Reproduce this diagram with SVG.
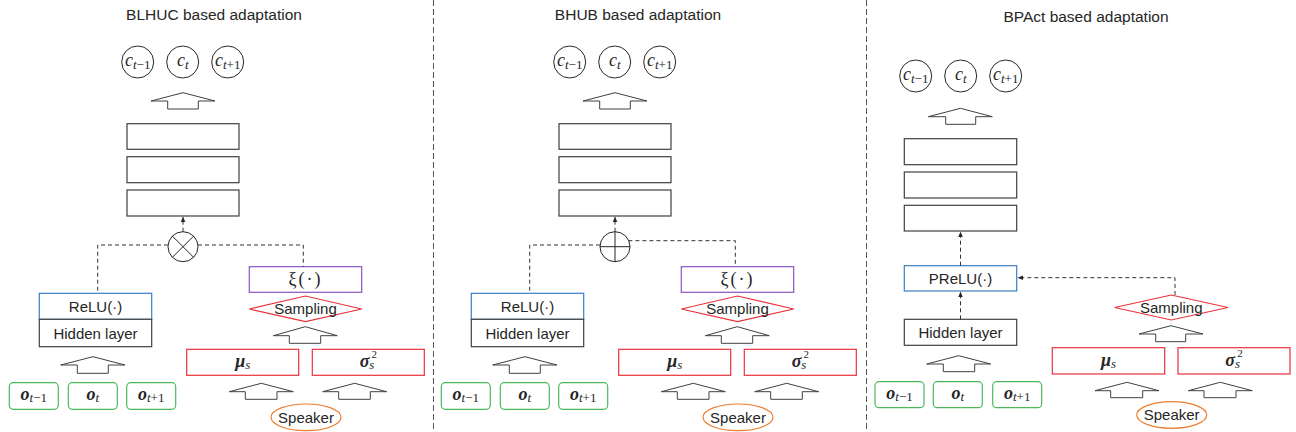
<svg xmlns="http://www.w3.org/2000/svg" width="1296" height="432" viewBox="0 0 1296 432">
<defs>
<style>
.t{font-family:"Liberation Sans",Arial,sans-serif;font-size:15.5px;fill:#262626;text-anchor:middle}
.lbl{font-family:"Liberation Sans",Arial,sans-serif;font-size:15px;fill:#262626;text-anchor:middle}
.m{font-family:"Liberation Serif","DejaVu Serif",serif;font-size:18px;fill:#262626;text-anchor:middle}
.sub{font-size:13px}
.sup{font-size:11px}
.box{fill:#fff;stroke:#404040;stroke-width:1.2}
.circ{fill:#fff;stroke:#262626;stroke-width:1}
.blk{fill:#fff;stroke:#404040;stroke-width:1}
.green{fill:#fff;stroke:#4CB85C;stroke-width:1.2}
.red{fill:#fff;stroke:#E8323C;stroke-width:1.2}
.blue{fill:#fff;stroke:#3A7FC1;stroke-width:1.2}
.purple{fill:#fff;stroke:#8A55BF;stroke-width:1.2}
.orange{fill:#fff;stroke:#ED7D31;stroke-width:1.2}
.dash{fill:none;stroke:#333;stroke-width:1;stroke-dasharray:4,3}
.div{fill:none;stroke:#555;stroke-width:1;stroke-dasharray:6,3}
.op{fill:#fff;stroke:#262626;stroke-width:1}
</style>
<marker id="ah" viewBox="0 0 10 10" refX="9" refY="5" markerWidth="6" markerHeight="6" orient="auto">
<path d="M0,1 L10,5 L0,9 z" fill="#262626"/>
</marker>
</defs>
<rect width="1296" height="432" fill="#fff"/>

<g id="dividers">
<line class="div" x1="433.5" y1="0" x2="433.5" y2="432"/>
<line class="div" x1="866.5" y1="0" x2="866.5" y2="432"/>
</g>

<!-- ============ Panel 1 ============ -->
<g id="p1">
<text id="p1-title" class="t" x="214" y="20">BLHUC based adaptation</text>
<g id="p1-c1"><circle class="circ" cx="137.7" cy="62" r="16"/><text class="m" x="137.7" y="66"><tspan font-style="italic">c</tspan><tspan class="sub" dy="3" font-style="italic">t</tspan><tspan class="sub">−1</tspan></text></g>
<g id="p1-c2"><circle class="circ" cx="182.7" cy="62" r="16"/><text class="m" x="182.7" y="66"><tspan font-style="italic">c</tspan><tspan class="sub" dy="3" font-style="italic">t</tspan></text></g>
<g id="p1-c3"><circle class="circ" cx="227.7" cy="62" r="16"/><text class="m" x="227.7" y="66"><tspan font-style="italic">c</tspan><tspan class="sub" dy="3" font-style="italic">t</tspan><tspan class="sub">+1</tspan></text></g>
<polygon id="p1-up" class="blk" points="151,101 183,92.7 215,101 198.3,101 198.3,109 167.7,109 167.7,101"/>
<rect id="p1-l1" class="box" x="127" y="123.7" width="112" height="25.6"/>
<rect id="p1-l2" class="box" x="127" y="156.7" width="112" height="26"/>
<rect id="p1-l3" class="box" x="127" y="190" width="112" height="26"/>
<g id="p1-mul"><circle class="op" cx="183" cy="246.7" r="15"/><line x1="172.4" y1="236.1" x2="193.6" y2="257.3" stroke="#262626"/><line x1="193.6" y1="236.1" x2="172.4" y2="257.3" stroke="#262626"/></g>
<g id="p1-xi"><rect class="purple" x="249.3" y="266.7" width="112.4" height="25.6"/><text class="m" x="305.5" y="285" letter-spacing="2">ξ(·)</text></g>
<g id="p1-samp"><polygon class="red" points="249.3,309 305.5,296 361.7,309 305.5,321.7"/><text class="lbl" x="305.5" y="314">Sampling</text></g>
<polygon id="p1-up2" class="blk" points="273.3,335.7 305.3,326.7 337.3,335.7 320.7,335.7 320.7,343.3 289.3,343.3 289.3,335.7"/>
<g id="p1-mu"><rect class="red" x="186.7" y="349.3" width="112" height="26"/><text class="m" x="242.7" y="367"><tspan font-weight="bold" font-style="italic">μ</tspan><tspan class="sub" dy="2" font-style="italic">s</tspan></text></g>
<g id="p1-sig"><rect class="red" x="312.3" y="349.3" width="112" height="26"/><text class="m" x="368.3" y="367"><tspan font-weight="bold" font-style="italic">σ</tspan><tspan class="sub" dy="2" font-style="italic">s</tspan><tspan class="sup" dx="-3" dy="-11">2</tspan></text></g>
<polygon id="p1-up3" class="blk" points="229.3,391.7 261.3,383.3 293.3,391.7 277,391.7 277,399.3 245.3,399.3 245.3,391.7"/>
<polygon id="p1-up4" class="blk" points="322.7,391.7 354.7,383.3 386.7,391.7 370.3,391.7 370.3,399.3 338.7,399.3 338.7,391.7"/>
<g id="p1-spk"><ellipse class="orange" cx="306" cy="417.3" rx="35" ry="13.3"/><text class="lbl" x="306" y="422.5">Speaker</text></g>
<g id="p1-relu"><rect class="blue" x="39.3" y="293.3" width="112.4" height="26"/><text class="lbl" x="95.5" y="311.5">ReLU(·)</text></g>
<g id="p1-hid"><rect class="box" x="39.3" y="319.3" width="112.4" height="27.4"/><text class="lbl" x="95.5" y="338.5">Hidden layer</text></g>
<polygon id="p1-up5" class="blk" points="60.7,365 93,356.7 125,365 108.3,365 108.3,373.3 77.3,373.3 77.3,365"/>
<g id="p1-o1"><rect class="green" x="9.3" y="382.7" width="49" height="26.6" rx="4"/><text class="m" x="33.8" y="400"><tspan font-weight="bold" font-style="italic">o</tspan><tspan class="sub" dy="2" font-style="italic">t</tspan><tspan class="sub">−1</tspan></text></g>
<g id="p1-o2"><rect class="green" x="68.3" y="382.7" width="49" height="26.6" rx="4"/><text class="m" x="92.8" y="400"><tspan font-weight="bold" font-style="italic">o</tspan><tspan class="sub" dy="2" font-style="italic">t</tspan></text></g>
<g id="p1-o3"><rect class="green" x="126.7" y="382.7" width="49" height="26.6" rx="4"/><text class="m" x="151.2" y="400"><tspan font-weight="bold" font-style="italic">o</tspan><tspan class="sub" dy="2" font-style="italic">t</tspan><tspan class="sub">+1</tspan></text></g>
</g>

<!-- ============ Panel 2 ============ -->
<g id="p2">
<text id="p2-title" class="t" x="638" y="20">BHUB based adaptation</text>
<g id="p2-c1"><circle class="circ" cx="569.7" cy="62" r="16"/><text class="m" x="569.7" y="66"><tspan font-style="italic">c</tspan><tspan class="sub" dy="3" font-style="italic">t</tspan><tspan class="sub">−1</tspan></text></g>
<g id="p2-c2"><circle class="circ" cx="614.7" cy="62" r="16"/><text class="m" x="614.7" y="66"><tspan font-style="italic">c</tspan><tspan class="sub" dy="3" font-style="italic">t</tspan></text></g>
<g id="p2-c3"><circle class="circ" cx="659.7" cy="62" r="16"/><text class="m" x="659.7" y="66"><tspan font-style="italic">c</tspan><tspan class="sub" dy="3" font-style="italic">t</tspan><tspan class="sub">+1</tspan></text></g>
<polygon id="p2-up" class="blk" points="583,101 615,92.7 647,101 630.3,101 630.3,109 599.7,109 599.7,101"/>
<rect id="p2-l1" class="box" x="559" y="123.7" width="112" height="25.6"/>
<rect id="p2-l2" class="box" x="559" y="156.7" width="112" height="26"/>
<rect id="p2-l3" class="box" x="559" y="190" width="112" height="26"/>
<g id="p2-add"><circle class="op" cx="615" cy="246.7" r="15"/><line x1="615" y1="231.7" x2="615" y2="261.7" stroke="#262626"/><line x1="600" y1="246.7" x2="630" y2="246.7" stroke="#262626"/></g>
<g id="p2-xi"><rect class="purple" x="681.3" y="266.7" width="112.4" height="25.6"/><text class="m" x="737.5" y="285" letter-spacing="2">ξ(·)</text></g>
<g id="p2-samp"><polygon class="red" points="681.3,309 737.5,296 793.7,309 737.5,321.7"/><text class="lbl" x="737.5" y="314">Sampling</text></g>
<polygon id="p2-up2" class="blk" points="705.3,335.7 737.3,326.7 769.3,335.7 752.7,335.7 752.7,343.3 721.3,343.3 721.3,335.7"/>
<g id="p2-mu"><rect class="red" x="618.7" y="349.3" width="112" height="26"/><text class="m" x="674.7" y="367"><tspan font-weight="bold" font-style="italic">μ</tspan><tspan class="sub" dy="2" font-style="italic">s</tspan></text></g>
<g id="p2-sig"><rect class="red" x="744.3" y="349.3" width="112" height="26"/><text class="m" x="800.3" y="367"><tspan font-weight="bold" font-style="italic">σ</tspan><tspan class="sub" dy="2" font-style="italic">s</tspan><tspan class="sup" dx="-3" dy="-11">2</tspan></text></g>
<polygon id="p2-up3" class="blk" points="661.3,391.7 693.3,383.3 725.3,391.7 709,391.7 709,399.3 677.3,399.3 677.3,391.7"/>
<polygon id="p2-up4" class="blk" points="754.7,391.7 786.7,383.3 818.7,391.7 802.3,391.7 802.3,399.3 770.7,399.3 770.7,391.7"/>
<g id="p2-spk"><ellipse class="orange" cx="738" cy="417.3" rx="35" ry="13.3"/><text class="lbl" x="738" y="422.5">Speaker</text></g>
<g id="p2-relu"><rect class="blue" x="471.3" y="293.3" width="112.4" height="26"/><text class="lbl" x="527.5" y="311.5">ReLU(·)</text></g>
<g id="p2-hid"><rect class="box" x="471.3" y="319.3" width="112.4" height="27.4"/><text class="lbl" x="527.5" y="338.5">Hidden layer</text></g>
<polygon id="p2-up5" class="blk" points="492.7,365 525,356.7 557,365 540.3,365 540.3,373.3 509.3,373.3 509.3,365"/>
<g id="p2-o1"><rect class="green" x="441.3" y="382.7" width="49" height="26.6" rx="4"/><text class="m" x="465.8" y="400"><tspan font-weight="bold" font-style="italic">o</tspan><tspan class="sub" dy="2" font-style="italic">t</tspan><tspan class="sub">−1</tspan></text></g>
<g id="p2-o2"><rect class="green" x="500.3" y="382.7" width="49" height="26.6" rx="4"/><text class="m" x="524.8" y="400"><tspan font-weight="bold" font-style="italic">o</tspan><tspan class="sub" dy="2" font-style="italic">t</tspan></text></g>
<g id="p2-o3"><rect class="green" x="558.7" y="382.7" width="49" height="26.6" rx="4"/><text class="m" x="583.2" y="400"><tspan font-weight="bold" font-style="italic">o</tspan><tspan class="sub" dy="2" font-style="italic">t</tspan><tspan class="sub">+1</tspan></text></g>
</g>

<!-- ============ Panel 3 ============ -->
<g id="p3">
<text id="p3-title" class="t" x="1086" y="22">BPAct based adaptation</text>
<g id="p3-c1"><circle class="circ" cx="915.7" cy="76" r="16"/><text class="m" x="915.7" y="80"><tspan font-style="italic">c</tspan><tspan class="sub" dy="3" font-style="italic">t</tspan><tspan class="sub">−1</tspan></text></g>
<g id="p3-c2"><circle class="circ" cx="960.7" cy="76" r="16"/><text class="m" x="960.7" y="80"><tspan font-style="italic">c</tspan><tspan class="sub" dy="3" font-style="italic">t</tspan></text></g>
<g id="p3-c3"><circle class="circ" cx="1005.7" cy="76" r="16"/><text class="m" x="1005.7" y="80"><tspan font-style="italic">c</tspan><tspan class="sub" dy="3" font-style="italic">t</tspan><tspan class="sub">+1</tspan></text></g>
<polygon id="p3-up" class="blk" points="928.3,116.7 960.5,108.3 992.3,116.7 975.7,116.7 975.7,124.3 945.7,124.3 945.7,116.7"/>
<rect id="p3-l1" class="box" x="904.3" y="138.7" width="112.4" height="26"/>
<rect id="p3-l2" class="box" x="904.3" y="172" width="112.4" height="26"/>
<rect id="p3-l3" class="box" x="904.3" y="205.3" width="112.4" height="25.7"/>
<g id="p3-prelu"><rect class="blue" x="904.3" y="265.7" width="112.4" height="25.3"/><text class="lbl" x="960.5" y="283.5">PReLU(·)</text></g>
<g id="p3-hid"><rect class="box" x="904.3" y="319.3" width="112.4" height="26"/><text class="lbl" x="960.5" y="338">Hidden layer</text></g>
<g id="p3-samp"><polygon class="red" points="1114.7,307.5 1171.3,295 1228,307.5 1171.3,320"/><text class="lbl" x="1171.3" y="312.5">Sampling</text></g>
<polygon id="p3-up2" class="blk" points="1139,334 1171,325.7 1203,334 1185.7,334 1185.7,341.7 1155.7,341.7 1155.7,334"/>
<g id="p3-mu"><rect class="red" x="1052.3" y="347.7" width="112.4" height="26.3"/><text class="m" x="1108.5" y="365.5"><tspan font-weight="bold" font-style="italic">μ</tspan><tspan class="sub" dy="2" font-style="italic">s</tspan></text></g>
<g id="p3-sig"><rect class="red" x="1178" y="347.7" width="112" height="26.3"/><text class="m" x="1234" y="365.5"><tspan font-weight="bold" font-style="italic">σ</tspan><tspan class="sub" dy="2" font-style="italic">s</tspan><tspan class="sup" dx="-3" dy="-11">2</tspan></text></g>
<polygon id="p3-up3" class="blk" points="1095,390.7 1127,382.3 1159,390.7 1142.7,390.7 1142.7,397.7 1110.7,397.7 1110.7,390.7"/>
<polygon id="p3-up4" class="blk" points="1188.3,390.7 1220.3,382.3 1252.3,390.7 1236,390.7 1236,397.7 1204,397.7 1204,390.7"/>
<g id="p3-spk"><ellipse class="orange" cx="1171.7" cy="415" rx="35" ry="13.3"/><text class="lbl" x="1171.7" y="420">Speaker</text></g>
<polygon id="p3-up5" class="blk" points="926.7,364 958.7,355.7 990.7,364 974.7,364 974.7,371.7 943.3,371.7 943.3,364"/>
<g id="p3-o1"><rect class="green" x="875" y="381.7" width="49" height="26" rx="4"/><text class="m" x="899.5" y="398.5"><tspan font-weight="bold" font-style="italic">o</tspan><tspan class="sub" dy="2" font-style="italic">t</tspan><tspan class="sub">−1</tspan></text></g>
<g id="p3-o2"><rect class="green" x="933.3" y="381.7" width="49" height="26" rx="4"/><text class="m" x="957.8" y="398.5"><tspan font-weight="bold" font-style="italic">o</tspan><tspan class="sub" dy="2" font-style="italic">t</tspan></text></g>
<g id="p3-o3"><rect class="green" x="992.7" y="381.7" width="49" height="26" rx="4"/><text class="m" x="1017.2" y="398.5"><tspan font-weight="bold" font-style="italic">o</tspan><tspan class="sub" dy="2" font-style="italic">t</tspan><tspan class="sub">+1</tspan></text></g>
</g>

<g id="connectors">
<line class="dash" x1="183" y1="231.7" x2="183" y2="217" marker-end="url(#ah)"/>
<polyline class="dash" points="168,245 97.7,245 97.7,293.3"/>
<polyline class="dash" points="198,245 303.3,245 303.3,266.7"/>
<line class="dash" x1="615" y1="231.7" x2="615" y2="217" marker-end="url(#ah)"/>
<polyline class="dash" points="600,245 529.7,245 529.7,293.3"/>
<polyline class="dash" points="628.4,240.7 735.3,240.7 735.3,266.7"/>
<line class="dash" x1="960.5" y1="265.7" x2="960.5" y2="232" marker-end="url(#ah)"/>
<line class="dash" x1="960.5" y1="319.3" x2="960.5" y2="292" marker-end="url(#ah)"/>
<polyline class="dash" points="1175,295 1175,277.7 1018,277.7" marker-end="url(#ah)"/>
</g>
</svg>
